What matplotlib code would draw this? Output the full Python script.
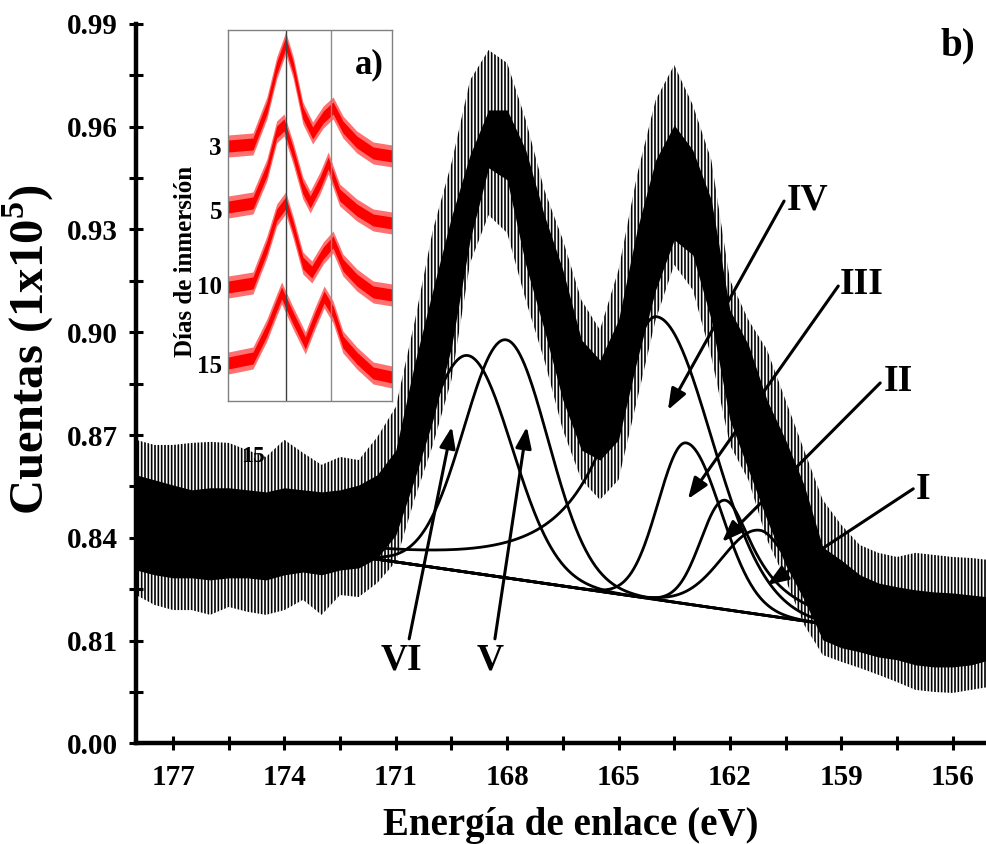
import numpy as np
import matplotlib
matplotlib.use("Agg")
import matplotlib.pyplot as plt

plt.rcParams['font.family'] = ['Liberation Serif', 'DejaVu Serif']
plt.rcParams['font.weight'] = 'bold'
plt.rcParams['mathtext.fontset'] = 'custom'
plt.rcParams['mathtext.rm'] = 'Liberation Serif:bold'
plt.rcParams['mathtext.bf'] = 'Liberation Serif:bold'
plt.rcParams['hatch.linewidth'] = 1.2

# ---------------- main spectrum (b) : noisy data band ----------------
energy = [178.0, 177.5, 177.0, 176.5, 176.0, 175.5, 175.0, 174.5, 174.0, 173.5, 173.0, 172.5,
          172.0, 171.5, 171.0, 170.5, 170.0, 169.5, 169.0, 168.5, 168.0, 167.5, 167.0, 166.5,
          166.0, 165.5, 165.0, 164.5, 164.0, 163.5, 163.0, 162.5, 162.0, 161.5, 161.0, 160.5,
          160.0, 159.5, 159.0, 158.5, 158.0, 157.5, 157.0, 156.5, 156.0, 155.5, 155.0]
core_top = [0.8584, 0.8569, 0.8554, 0.8540, 0.8546, 0.8546, 0.8540, 0.8534, 0.8546, 0.8540, 0.8534, 0.8540,
            0.8554, 0.8584, 0.8656, 0.8905, 0.9124, 0.9337, 0.9518, 0.9649, 0.9649, 0.9532, 0.9342, 0.9182,
            0.8978, 0.8919, 0.9036, 0.9299, 0.9503, 0.9605, 0.9532, 0.9386, 0.9065, 0.8963, 0.8802, 0.8686,
            0.8554, 0.8373, 0.8335, 0.8292, 0.8268, 0.8257, 0.8248, 0.8242, 0.8239, 0.8233, 0.8227]
core_bot = [0.8306, 0.8292, 0.8283, 0.8283, 0.8277, 0.8283, 0.8283, 0.8277, 0.8292, 0.8300, 0.8292, 0.8306,
            0.8312, 0.8341, 0.8408, 0.8569, 0.8744, 0.8957, 0.9270, 0.9480, 0.9445, 0.9197, 0.9007, 0.8802,
            0.8656, 0.8627, 0.8686, 0.8919, 0.9124, 0.9270, 0.9226, 0.9036, 0.8744, 0.8598, 0.8452, 0.8321,
            0.8219, 0.8102, 0.8079, 0.8067, 0.8052, 0.8044, 0.8029, 0.8023, 0.8023, 0.8029, 0.8044]
spike_top = [0.8686, 0.8671, 0.8671, 0.8677, 0.8680, 0.8677, 0.8656, 0.8636, 0.8686, 0.8648, 0.8613, 0.8636,
             0.8627, 0.8694, 0.8782, 0.9027, 0.9299, 0.9494, 0.9736, 0.9824, 0.9786, 0.9620, 0.9416, 0.9270,
             0.9094, 0.9007, 0.9182, 0.9459, 0.9678, 0.9780, 0.9664, 0.9503, 0.9153, 0.9036, 0.8949, 0.8802,
             0.8656, 0.8511, 0.8438, 0.8379, 0.8356, 0.8344, 0.8356, 0.8350, 0.8344, 0.8341, 0.8335]
spike_bot = [0.8233, 0.8204, 0.8189, 0.8189, 0.8175, 0.8198, 0.8184, 0.8175, 0.8189, 0.8219, 0.8175, 0.8233,
             0.8227, 0.8268, 0.8330, 0.8511, 0.8671, 0.8861, 0.9202, 0.9342, 0.9290, 0.9094, 0.8919, 0.8715,
             0.8569, 0.8511, 0.8569, 0.8802, 0.9036, 0.9197, 0.9124, 0.8928, 0.8671, 0.8569, 0.8394, 0.8277,
             0.8146, 0.8058, 0.8038, 0.8020, 0.8000, 0.7979, 0.7956, 0.7950, 0.7947, 0.7956, 0.7965]

# ---------------- fitted components ----------------
peak_names = ['I', 'II', 'III', 'IV', 'V', 'VI']
peak_center = [161.19, 162.13, 163.18, 163.97, 168.03, 169.06]
peak_height = [0.0246, 0.0319, 0.0470, 0.0826, 0.0695, 0.0633]
width_high_E = [1.02, 0.65, 0.75, 1.54, 1.13, 1.19]
width_low_E = [1.13, 0.94, 0.94, 1.46, 1.13, 1.19]
shape_high_E = ['G', 'G', 'G', 'L', 'G', 'G']
shape_low_E = ['L', 'L', 'G', 'G', 'G', 'G']
baseline_E = [178.0, 155.0]
baseline_counts = [0.8439, 0.8079]

# ---------------- annotations ----------------
label_text = ['IV', 'III', 'II', 'I', 'VI', 'V']
label_pos = [(159.92, 0.9386), (158.44, 0.9138), (157.47, 0.8855), (156.80, 0.8540),
             (170.84, 0.8044), (168.46, 0.8044)]
arrow_tail = [(160.54, 0.9383), (159.08, 0.9135), (157.95, 0.8852), (157.06, 0.8543),
              (170.64, 0.8105), (168.33, 0.8105)]
arrow_head = [(163.67, 0.8773), (163.13, 0.8513), (162.21, 0.8388), (161.00, 0.8262),
              (169.49, 0.8724), (167.47, 0.8724)]

# axis ticks
x_ticks = [177, 175.5, 174, 172.5, 171, 169.5, 168, 166.5, 165, 163.5, 162, 160.5, 159, 157.5, 156]
x_labels = ['177', '', '174', '', '171', '', '168', '', '165', '', '162', '', '159', '', '156']
y_ticks = [0.78, 0.795, 0.81, 0.825, 0.84, 0.855, 0.87, 0.885, 0.90, 0.915, 0.93, 0.945, 0.96, 0.975, 0.99]
y_labels = ['0.00', '', '0.81', '', '0.84', '', '0.87', '', '0.90', '', '0.93', '', '0.96', '', '0.99']

# ---------------- inset (a) spectra, intensity in arbitrary units ----------------
inset_days = ['3', '5', '10', '15']
inset_E = [
    [176, 173.0, 171.3, 170.1, 169.0, 168.1, 166.9, 165.7, 164.4, 163.2, 162.0, 160.3, 158.3, 156.0],
    [176, 173.0, 171.3, 170.1, 169.2, 168.1, 166.9, 166.0, 164.8, 163.8, 162.4, 160.3, 158.3, 156.0],
    [176, 173.0, 171.3, 170.1, 169.0, 168.1, 166.9, 165.8, 164.4, 163.2, 162.0, 160.3, 158.3, 156.0],
    [176, 173.0, 171.3, 170.1, 169.5, 168.1, 166.6, 165.4, 164.3, 163.2, 162.0, 160.3, 158.3, 156.0],
]
inset_I = [
    [255, 257, 293, 333, 358, 334, 288, 268, 284, 293, 274, 259, 248, 245],
    [194, 198, 231, 269, 276, 248, 213, 199, 218, 238, 206, 191, 181, 178],
    [114, 118, 154, 186, 198, 174, 138, 129, 148, 159, 136, 121, 109, 106],
    [38, 43, 71, 96, 108, 83, 58, 83, 104, 89, 59, 43, 28, 24],
]
inset_label_y = [252, 188, 113, 34]
inset_lines_E = [169.0, 163.4]


def component(E, c, h, whi, wlo, shi, slo):
    d = E - c
    out = np.zeros_like(E)
    for mask, w, s in ((d >= 0, whi, shi), (d < 0, wlo, slo)):
        if s == 'G':
            out[mask] = h * np.exp(-0.5 * (d[mask] / w) ** 2)
        else:
            out[mask] = h / (1 + (d[mask] / w) ** 2)
    return out


fig = plt.figure(figsize=(9.86, 8.44), dpi=100)
ax = fig.add_axes([0.1379, 0.1193, 0.8621, 0.8523])

ax.fill_between(energy, spike_bot, spike_top, facecolor='none', edgecolor='k',
                hatch='|||||', linewidth=0, zorder=1)
ax.fill_between(energy, core_bot, core_top, color='k', linewidth=0, zorder=2)

Ef = np.linspace(178.5, 154.5, 800)
base = np.interp(Ef, baseline_E[::-1], baseline_counts[::-1])
for i in range(len(peak_names)):
    comp = component(Ef, peak_center[i], peak_height[i], width_high_E[i], width_low_E[i],
                     shape_high_E[i], shape_low_E[i])
    ax.plot(Ef, base + comp, color='k', lw=2.0, zorder=3)
ax.plot(Ef, base, color='k', lw=2.0, zorder=3)

for t, p in zip(label_text, label_pos):
    ax.text(p[0], p[1], t, fontsize=27, fontweight='bold', ha='center', va='center', zorder=5)
for tl, hd in zip(arrow_tail, arrow_head):
    ax.annotate('', xy=hd, xytext=tl,
                arrowprops=dict(arrowstyle='-|>,head_length=0.8,head_width=0.3', lw=2.2,
                                color='k', shrinkA=0, shrinkB=0, mutation_scale=16), zorder=5)
ax.text(174.85, 0.8636, '15', fontsize=17, fontweight='bold', ha='center', va='center', zorder=5)
ax.text(0.987, 0.995, 'b)', transform=ax.transAxes, fontsize=28, fontweight='bold',
        ha='right', va='top')

ax.set_xlim(178.0, 155.1)
ax.set_ylim(0.78, 0.99)
ax.set_xticks(x_ticks)
ax.set_xticklabels(x_labels)
ax.set_yticks(y_ticks)
ax.set_yticklabels(y_labels)
for s in ['top', 'right']:
    ax.spines[s].set_visible(False)
for s in ['left', 'bottom']:
    ax.spines[s].set_linewidth(3.2)
ax.tick_params(direction='inout', length=10, width=2.2, labelsize=21)
ax.tick_params(axis='x', pad=10)
ax.tick_params(axis='y', pad=8)
for lab in ax.get_xticklabels() + ax.get_yticklabels():
    lab.set_fontweight('bold')
ax.set_xlabel('Energía de enlace (eV)', fontsize=28, fontweight='bold')
ax.xaxis.set_label_coords(0.511, -0.088)
ax.set_ylabel(r'Cuentas (1x10$^{\mathbf{5}}$)', fontsize=35, fontweight='bold')
ax.yaxis.set_label_coords(-0.094, 0.547)

# ---------------- inset ----------------
axi = fig.add_axes([0.2317, 0.5249, 0.1658, 0.4396])
for E, I in zip(inset_E, inset_I):
    I = np.array(I, dtype=float)
    axi.fill_between(E, I - 11, I + 11, color='#ff7070', linewidth=0)
    axi.fill_between(E, I - 6, I + 6, color='red', linewidth=0)
axi.axvline(inset_lines_E[0], color='0.25', lw=1.0)
axi.axvline(inset_lines_E[1], color='0.55', lw=1.0)
axi.set_xlim(176, 156)
axi.set_ylim(0, 371)
axi.set_xticks([])
axi.set_yticks([])
for s in axi.spines.values():
    s.set_color('0.5')
    s.set_linewidth(1.0)
for d, yv in zip(inset_days, inset_label_y):
    axi.text(-0.04, yv, d, transform=axi.get_yaxis_transform(), fontsize=18,
             fontweight='bold', ha='right', va='center')
axi.text(-0.26, 0.375, 'Días de inmersión', transform=axi.transAxes, rotation=90,
         fontsize=18, fontweight='bold', ha='center', va='center')
axi.text(0.95, 0.95, 'a)', transform=axi.transAxes, fontsize=25, fontweight='bold',
         ha='right', va='top')

fig.savefig('out.png', dpi=100)
